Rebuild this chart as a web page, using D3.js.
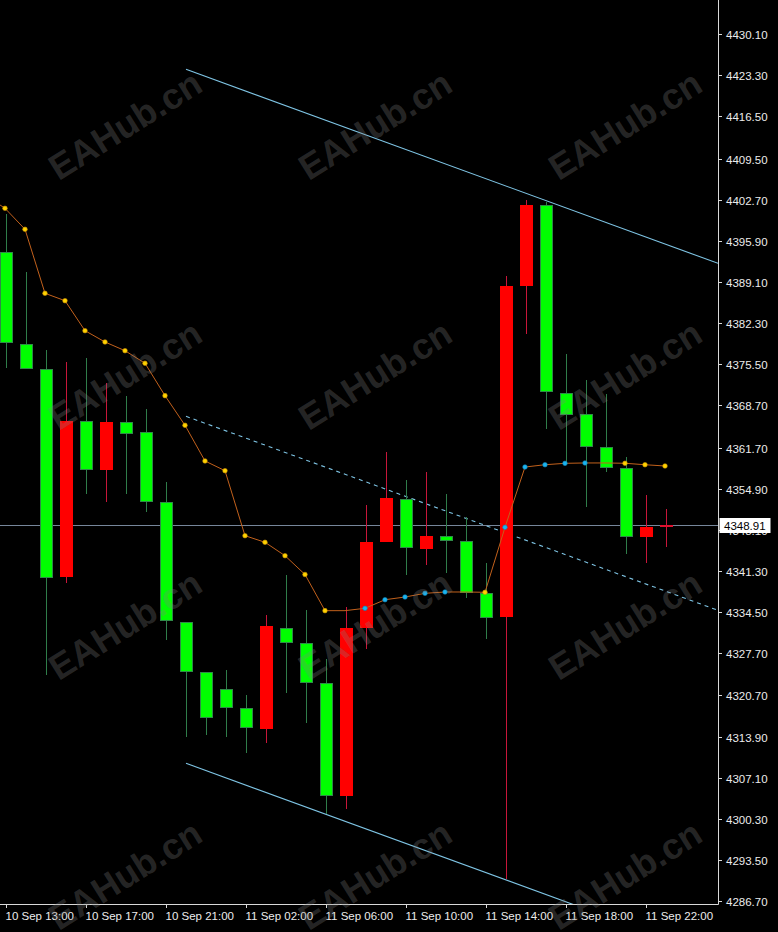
<!DOCTYPE html>
<html><head><meta charset="utf-8">
<script src="https://cdn.jsdelivr.net/npm/d3@7"></script>
<style>html,body{margin:0;padding:0;background:#000;overflow:hidden}</style>
</head><body>
<svg id="chart" width="778" height="932"></svg>
<script>
// ---- data ----
const times = ["10 Sep 13:00","10 Sep 14:00","10 Sep 15:00","10 Sep 16:00","10 Sep 17:00","10 Sep 18:00","10 Sep 19:00","10 Sep 20:00",
  "10 Sep 21:00","10 Sep 23:00","11 Sep 00:00","11 Sep 01:00","11 Sep 02:00","11 Sep 03:00","11 Sep 04:00","11 Sep 05:00",
  "11 Sep 06:00","11 Sep 07:00","11 Sep 08:00","11 Sep 09:00","11 Sep 10:00","11 Sep 11:00","11 Sep 12:00","11 Sep 13:00",
  "11 Sep 14:00","11 Sep 15:00","11 Sep 16:00","11 Sep 17:00","11 Sep 18:00","11 Sep 19:00","11 Sep 20:00","11 Sep 21:00",
  "11 Sep 22:00","11 Sep 23:00"];
const open  = [4394.09,4378.78,4374.64,4340.24,4366.14,4357.99,4365.93,4364.32,4352.74,4332.90,4324.63,4321.71,4318.57,4315.15,4331.80,4329.32,4322.71,4304.07,4331.80,4346.03,4353.14,4344.92,4347.12,4346.29,4337.59,4333.62,4388.42,4401.82,4370.72,4367.20,4361.84,4358.27,4346.86,4348.80];
const high  = [4400.33,4390.79,4377.79,4375.90,4376.56,4372.43,4370.23,4368.03,4356.05,4332.90,4324.63,4324.91,4320.77,4334.00,4340.62,4334.75,4326.68,4335.38,4352.20,4361.01,4356.33,4357.71,4354.02,4350.26,4342.56,4390.12,4402.65,4402.36,4377.17,4372.87,4370.56,4360.19,4353.85,4351.54];
const low   = [4374.91,4374.64,4324.08,4339.35,4354.02,4352.64,4354.02,4351.09,4329.87,4313.83,4314.16,4313.83,4311.23,4312.78,4321.05,4316.09,4301.09,4301.92,4328.33,4346.03,4340.62,4342.27,4340.90,4336.77,4330.03,4290.29,4380.48,4364.77,4359.09,4351.92,4357.71,4344.09,4342.65,4345.30];
const close = [4378.94,4374.64,4340.07,4366.14,4357.99,4365.98,4363.99,4352.69,4333.01,4324.53,4316.92,4318.57,4315.26,4332.23,4329.32,4322.71,4304.07,4331.90,4346.13,4353.41,4345.04,4347.12,4346.29,4337.59,4333.46,4388.47,4401.82,4370.84,4367.08,4361.74,4358.27,4346.86,4348.61,4348.91];
// moving average, first value belongs to the bar just before the first visible bar
const maStart = -1;
const maValues = [4403.47,4401.27,4397.80,4387.21,4385.99,4381.03,4379.16,4377.72,4375.64,4370.28,4365.38,4359.48,4357.87,4347.12,4346.03,4343.81,4340.70,4334.72,4334.72,4335.11,4336.53,4336.98,4337.59,4337.81,4337.81,4337.76,4348.51,4358.48,4358.86,4359.09,4359.15,4359.15,4359.10,4358.86,4358.65];
const yTickLabels = [4430.10,4423.30,4416.50,4409.50,4402.70,4395.90,4389.10,4382.30,4375.50,4368.70,4361.70,4354.90,4348.10,4341.30,4334.50,4327.70,4320.70,4313.90,4307.10,4300.30,4293.50,4286.70];
const xTickIndex = [0,4,8,12,16,20,24,28,32];
const lastPrice = 4348.91;
// channel: [bar index, price]
const channelUpper = [[9,4424.26],[35.6,4392.17]];
const channelLower = [[9,4309.48],[35.6,4277.39]];
const watermark = "EAHub.cn";

// ---- layout ----
const W = 778, H = 932, plotR = 718, plotB = 904;
const FONT = "'Liberation Sans', Arial, sans-serif";
const x = d3.scaleLinear().domain([0, 33]).range([6, 666]);
const y = d3.scaleLinear().domain([4286.70, 4430.10]).range([901, 34]);

const svg = d3.select('#chart');
svg.append('rect').attr('width', W).attr('height', H).attr('fill', '#000');
svg.append('defs').append('clipPath').attr('id', 'plotClip')
  .append('rect').attr('x', 0).attr('y', 0).attr('width', plotR).attr('height', plotB);
const plot = svg.append('g').attr('clip-path', 'url(#plotClip)');

// current price line
const yp = Math.round(y(lastPrice)) + 0.5;
plot.append('line').attr('x1', 0).attr('x2', plotR).attr('y1', yp).attr('y2', yp)
  .attr('stroke', '#76869a').attr('stroke-width', 1);

// channel
const chan = d3.line().x(d => x(d[0])).y(d => y(d[1]));
const mid = channelUpper.map((d, k) => [d[0], (d[1] + channelLower[k][1]) / 2]);
plot.append('path').attr('d', chan(channelUpper)).attr('stroke', '#7ec4e4').attr('fill', 'none').attr('stroke-width', 1.1);
plot.append('path').attr('d', chan(channelLower)).attr('stroke', '#7ec4e4').attr('fill', 'none').attr('stroke-width', 1.1);
plot.append('path').attr('d', chan(mid)).attr('stroke', '#7ec4e4').attr('fill', 'none').attr('stroke-width', 1.1)
  .attr('stroke-dasharray', '4,4');

// candles
const candles = d3.range(open.length).map(i => ({i, o: open[i], h: high[i], l: low[i], c: close[i]}));
const cg = plot.append('g');
candles.forEach(d => {
  const cx = Math.round(x(d.i));
  const up = d.c > d.o;
  const wickCol = up ? '#c8163a' : '#2f7d4a';
  cg.append('line').attr('x1', cx + 0.5).attr('x2', cx + 0.5)
    .attr('y1', Math.round(y(d.h))).attr('y2', Math.round(y(d.l)))
    .attr('stroke', wickCol).attr('stroke-width', 1);
  const top = Math.round(y(Math.max(d.o, d.c)));
  const bot = Math.round(y(Math.min(d.o, d.c)));
  const hgt = Math.max(2, bot - top);
  if (up) {
    cg.append('rect').attr('x', cx - 6).attr('y', top).attr('width', 13).attr('height', hgt)
      .attr('fill', hgt <= 2 ? '#e0102e' : '#ff0000');
  } else {
    cg.append('rect').attr('x', cx - 5.5).attr('y', top + 0.5).attr('width', 12).attr('height', Math.max(1, hgt - 1))
      .attr('fill', '#00ff00').attr('stroke', '#2f8a48').attr('stroke-width', 1);
  }
});

// moving average
const maPts = maValues.map((v, k) => ({i: k + maStart, v, prev: k > 0 ? maValues[k - 1] : null}));
plot.append('path').attr('d', d3.line().x(d => x(d.i) - 1).y(d => y(d.v))(maPts))
  .attr('fill', 'none').attr('stroke', '#c2611c').attr('stroke-width', 1);
maPts.filter(d => d.prev !== null && d.v !== d.prev).forEach(d => {
  plot.append('circle').attr('cx', x(d.i) - 1).attr('cy', y(d.v)).attr('r', 2.3)
    .attr('fill', d.v > d.prev ? '#19b4f0' : '#ffd200')
    .attr('stroke', d.v > d.prev ? '#1080b0' : '#c89000').attr('stroke-width', 0.6);
});

// axes frame
svg.append('line').attr('x1', plotR + 0.5).attr('x2', plotR + 0.5).attr('y1', 0).attr('y2', plotB + 0.5)
  .attr('stroke', '#d8d8d8');
svg.append('line').attr('x1', 0).attr('x2', plotR + 0.5).attr('y1', plotB + 0.5).attr('y2', plotB + 0.5)
  .attr('stroke', '#d8d8d8');

// y ticks
const yAx = svg.append('g');
yTickLabels.forEach(v => {
  const ty = Math.round(y(v)) + 0.5;
  yAx.append('line').attr('x1', plotR).attr('x2', plotR + 4).attr('y1', ty).attr('y2', ty).attr('stroke', '#d8d8d8');
  yAx.append('text').attr('x', 726).attr('y', ty).attr('dy', '0.36em')
    .attr('fill', '#ececec').attr('font-family', FONT).attr('font-size', 11.5).text(d3.format('.2f')(v));
});

// x ticks
const xAx = svg.append('g');
xTickIndex.forEach(i => {
  const tx = Math.round(x(i)) + 0.5;
  xAx.append('line').attr('x1', tx).attr('x2', tx).attr('y1', plotB).attr('y2', plotB + 4).attr('stroke', '#d8d8d8');
  xAx.append('text').attr('x', tx - 1).attr('y', 920)
    .attr('fill', '#ececec').attr('font-family', FONT).attr('font-size', 11.5).text(times[i]);
});

// last price label
svg.append('rect').attr('x', 719.5).attr('y', yp - 7.5).attr('width', 51).attr('height', 15)
  .attr('fill', '#fff');
svg.append('text').attr('x', 724).attr('y', yp).attr('dy', '0.36em')
  .attr('fill', '#000').attr('font-family', FONT).attr('font-size', 11.5).text(d3.format('.2f')(lastPrice));

// watermarks
const wm = svg.append('g').attr('pointer-events', 'none');
for (let r = 0; r < 4; r++) for (let c = 0; c < 3; c++) {
  const cx = 125 + 250 * c, cy = 125 + 250 * r;
  wm.append('text').attr('transform', `translate(${cx},${cy}) rotate(-32)`)
    .attr('text-anchor', 'middle').attr('dy', '0.35em')
    .attr('font-family', FONT).attr('font-weight', 'bold').attr('font-size', 36)
    .attr('fill', '#808080').attr('fill-opacity', 0.3).text(watermark);
}
</script>
</body></html>
